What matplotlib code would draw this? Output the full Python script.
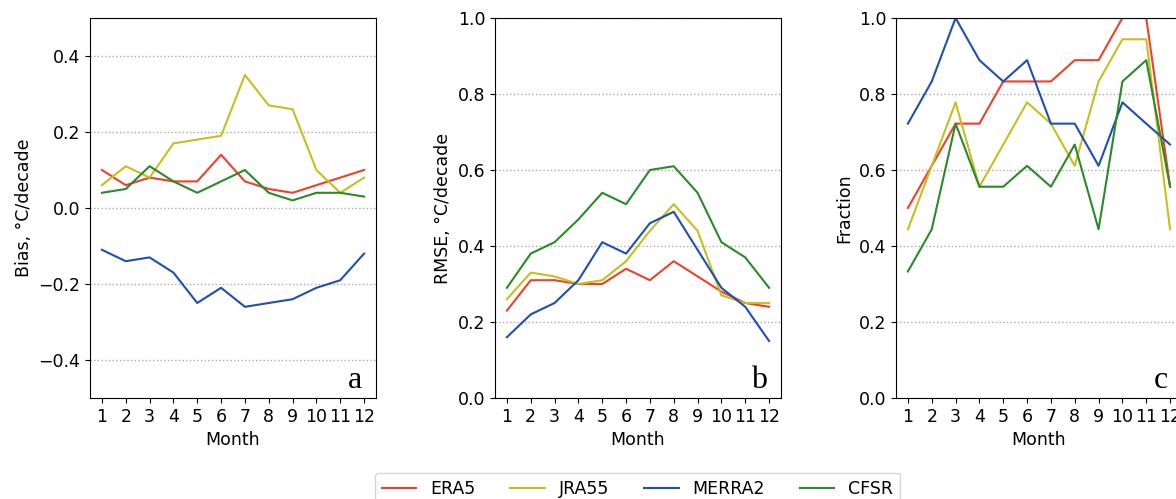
import matplotlib
matplotlib.use("Agg")
import matplotlib.pyplot as plt

months = list(range(1, 13))
names = ["ERA5", "JRA55", "MERRA2", "CFSR"]
colours = ["#f0402a", "#c8be1e", "#1f4fb0", "#2a8a2a"]

# panel a: bias of trend
bias_era5 = [0.10, 0.06, 0.08, 0.07, 0.07, 0.14, 0.07, 0.05, 0.04, 0.06, 0.08, 0.10]
bias_jra55 = [0.06, 0.11, 0.08, 0.17, 0.18, 0.19, 0.35, 0.27, 0.26, 0.10, 0.04, 0.08]
bias_merra2 = [-0.11, -0.14, -0.13, -0.17, -0.25, -0.21, -0.26, -0.25, -0.24, -0.21, -0.19, -0.12]
bias_cfsr = [0.04, 0.05, 0.11, 0.07, 0.04, 0.07, 0.10, 0.04, 0.02, 0.04, 0.04, 0.03]

# panel b: rmse of trend
rmse_era5 = [0.23, 0.31, 0.31, 0.30, 0.30, 0.34, 0.31, 0.36, 0.32, 0.28, 0.25, 0.24]
rmse_jra55 = [0.26, 0.33, 0.32, 0.30, 0.31, 0.36, 0.44, 0.51, 0.44, 0.27, 0.25, 0.25]
rmse_merra2 = [0.16, 0.22, 0.25, 0.31, 0.41, 0.38, 0.46, 0.49, 0.39, 0.29, 0.24, 0.15]
rmse_cfsr = [0.29, 0.38, 0.41, 0.47, 0.54, 0.51, 0.60, 0.61, 0.54, 0.41, 0.37, 0.29]

# panel c: fraction of stations
frac_era5 = [0.500, 0.611, 0.722, 0.722, 0.833, 0.833, 0.833, 0.889, 0.889, 1.000, 1.000, 0.556]
frac_jra55 = [0.444, 0.611, 0.778, 0.556, 0.667, 0.778, 0.722, 0.611, 0.833, 0.944, 0.944, 0.444]
frac_merra2 = [0.722, 0.833, 1.000, 0.889, 0.833, 0.889, 0.722, 0.722, 0.611, 0.778, 0.722, 0.667]
frac_cfsr = [0.333, 0.444, 0.722, 0.556, 0.556, 0.611, 0.556, 0.667, 0.444, 0.833, 0.889, 0.556]

panels = [
    ([bias_era5, bias_jra55, bias_merra2, bias_cfsr], "Bias, °C/decade", (-0.5, 0.5),
     [-0.4, -0.2, 0.0, 0.2, 0.4], "a"),
    ([rmse_era5, rmse_jra55, rmse_merra2, rmse_cfsr], "RMSE, °C/decade", (0.0, 1.0),
     [0.0, 0.2, 0.4, 0.6, 0.8, 1.0], "b"),
    ([frac_era5, frac_jra55, frac_merra2, frac_cfsr], "Fraction", (0.0, 1.0),
     [0.0, 0.2, 0.4, 0.6, 0.8, 1.0], "c"),
]

plt.rcParams["font.size"] = 12.5
fig = plt.figure(figsize=(11.76, 4.99), dpi=100)

lefts = [90, 495, 896]
W, H = 1176, 499
for left, (series, ylabel, ylim, yticks, letter) in zip(lefts, panels):
    ax = fig.add_axes([left / W, 101 / H, 286 / W, 380 / H])
    for vals, name, c in zip(series, names, colours):
        ax.plot(months, vals, color=c, lw=1.5, label=name)
    ax.set_xlim(0.5, 12.5)
    ax.set_ylim(*ylim)
    ax.set_xticks(months)
    ax.set_yticks(yticks)
    ax.yaxis.grid(True, linestyle=":", color="#aaaaaa", lw=1.0)
    ax.set_axisbelow(True)
    ax.set_xlabel("Month")
    ax.set_ylabel(ylabel)
    ax.text(0.95, 0.026, letter, transform=ax.transAxes, ha="right", va="baseline",
            fontsize=23, family="Liberation Serif")

handles, labels = ax.get_legend_handles_labels()
fig.legend(handles, labels, loc="upper center", ncol=4, bbox_to_anchor=(637.5 / W, 26 / H),
           borderaxespad=0, frameon=True)

fig.savefig("out.png", dpi=100)
